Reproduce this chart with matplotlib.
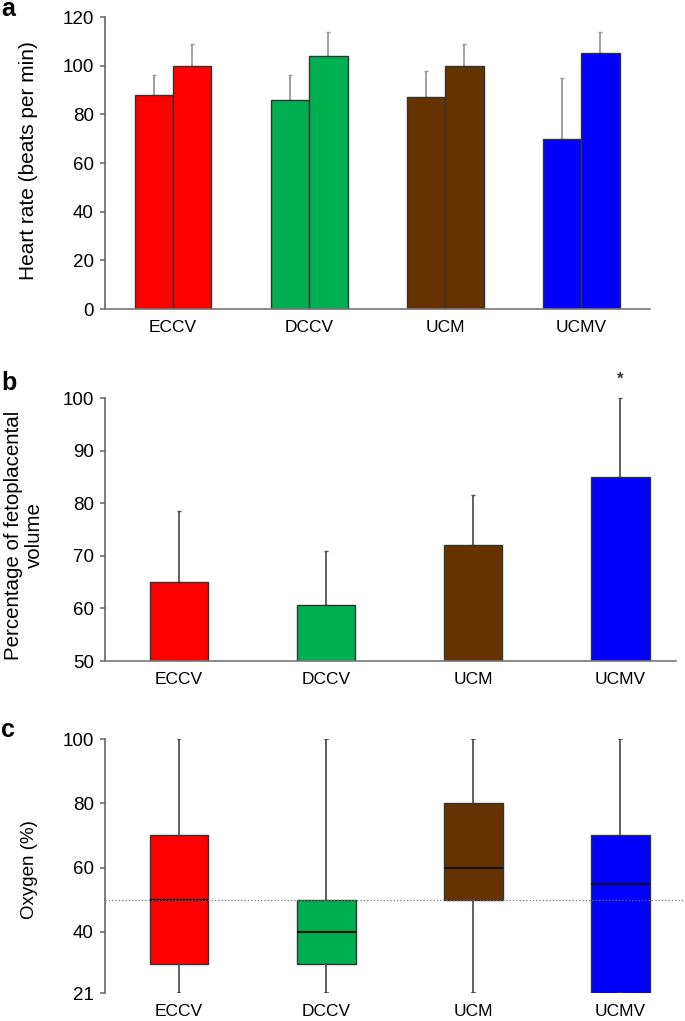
import numpy as np
import matplotlib.pyplot as plt

plt.rcParams['font.family'] = ['Liberation Sans', 'DejaVu Sans']

# ---- data ----
categories = ['ECCV', 'DCCV', 'UCM', 'UCMV']
colors = ['#ff0000', '#00b050', '#663300', '#0000ff']

# a: heart rate, two bars per group (mean, upper error)
hr_first = [88, 86, 87, 70]
hr_first_err = [8, 10, 11, 25]
hr_second = [100, 104, 100, 105]
hr_second_err = [9, 10, 9, 9]

# b: percentage of fetoplacental volume
vol_mean = [65, 60.7, 72, 85]
vol_err = [13.5, 10.2, 9.6, 15]
vol_star = 'UCMV'

# c: oxygen box plots
oxy_low = [21, 21, 21, 21]
oxy_q1 = [30, 30, 50, 21]
oxy_med = [50, 40, 60, 55]
oxy_q3 = [70, 50, 80, 70]
oxy_high = [100, 100, 100, 100]
oxy_ref = 50

W, H = 685, 1021
fig = plt.figure(figsize=(W / 100, H / 100), dpi=100)


def px_axes(x0, x1, ytop, ybot):
    return fig.add_axes([x0 / W, 1 - ybot / H, (x1 - x0) / W, (ybot - ytop) / H])


def style(ax, bottom=True):
    for s in ['top', 'right']:
        ax.spines[s].set_visible(False)
    ax.spines['left'].set_color('#666666')
    ax.spines['left'].set_linewidth(1.2)
    if bottom:
        ax.spines['bottom'].set_color('#777777')
        ax.spines['bottom'].set_linewidth(1.2)
    else:
        ax.spines['bottom'].set_visible(False)
    ax.tick_params(axis='y', length=3.5, width=1.1, color='#666666', pad=4.5, labelsize=13.5)
    ax.tick_params(axis='x', length=0, pad=8, labelsize=12.5)


x = np.arange(len(categories))
edge = '#333333'

# ---- panel a ----
ax_a = px_axes(105, 650, 17, 309)
w = 0.283
ax_a.bar(x - w, hr_first, w, align='edge', color=colors, edgecolor=edge, linewidth=1, zorder=2)
ax_a.bar(x, hr_second, w, align='edge', color=colors, edgecolor=edge, linewidth=1, zorder=2)
ax_a.errorbar(x - w / 2, hr_first, yerr=[np.zeros(4), hr_first_err], fmt='none',
              ecolor='#999999', elinewidth=1.3, capsize=1.5, zorder=1)
ax_a.errorbar(x + w / 2, hr_second, yerr=[np.zeros(4), hr_second_err], fmt='none',
              ecolor='#999999', elinewidth=1.3, capsize=1.5, zorder=1)
ax_a.set_xlim(-0.5, 3.507)
ax_a.set_ylim(0, 120)
ax_a.set_yticks(range(0, 121, 20))
ax_a.set_xticks(x)
ax_a.set_xticklabels(categories)
style(ax_a)

# ---- panel b ----
ax_b = px_axes(105, 676, 398, 661)
wb = 0.4
ax_b.bar(x, vol_mean, wb, color=colors, edgecolor=edge, linewidth=1, zorder=2)
ax_b.errorbar(x, vol_mean, yerr=[np.zeros(4), vol_err], fmt='none',
              ecolor='#555555', elinewidth=1.3, capsize=1.5, zorder=1, clip_on=False)
si = categories.index(vol_star)
ax_b.text(x[si], 103.6, '*', ha='center', va='center', fontsize=12,
          fontweight='bold', color='#333333', clip_on=False)
ax_b.set_xlim(-0.503, 3.38)
ax_b.set_ylim(50, 100)
ax_b.set_yticks(range(50, 101, 10))
ax_b.set_xticks(x)
ax_b.set_xticklabels(categories)
style(ax_b)

# ---- panel c ----
ax_c = px_axes(105, 685, 739, 993)
stats = []
for i, c in enumerate(categories):
    stats.append(dict(label=c, whislo=oxy_low[i], q1=oxy_q1[i], med=oxy_med[i],
                      q3=oxy_q3[i], whishi=oxy_high[i], fliers=[]))
bp = ax_c.bxp(stats, positions=x, widths=0.4, patch_artist=True, showfliers=False,
              boxprops=dict(edgecolor=edge, linewidth=1),
              medianprops=dict(color='#111111', linewidth=1.5),
              whiskerprops=dict(color='#444444', linewidth=1.2),
              capprops=dict(color='#444444', linewidth=1.2), capwidths=0.02)
for patch, col in zip(bp['boxes'], colors):
    patch.set_facecolor(col)
ax_c.axhline(oxy_ref, color='#777777', linestyle=':', linewidth=0.9, zorder=3)
ax_c.set_xlim(-0.503, 3.44)
ax_c.set_ylim(21, 100)
ax_c.set_yticks([21, 40, 60, 80, 100])
ax_c.set_xticks(x)
ax_c.set_xticklabels(categories)
style(ax_c, bottom=False)
ax_c.tick_params(axis='x', pad=8)

# ---- labels ----
fig.text(29 / W, 1 - 161 / H, 'Heart rate (beats per min)', rotation=90,
         ha='center', va='center', fontsize=15)
fig.text(24 / W, 1 - 535 / H, 'Percentage of fetoplacental\nvolume', rotation=90,
         ha='center', va='center', fontsize=14.8, multialignment='center', linespacing=1.1)
fig.text(29 / W, 1 - 870 / H, 'Oxygen (%)', rotation=90,
         ha='center', va='center', fontsize=13.5)

for letter, yb in [('a', 16), ('b', 390), ('c', 737)]:
    fig.text(1 / W, 1 - yb / H, letter, fontsize=18, fontweight='bold',
             ha='left', va='baseline')

fig.savefig('out.png', dpi=100)
